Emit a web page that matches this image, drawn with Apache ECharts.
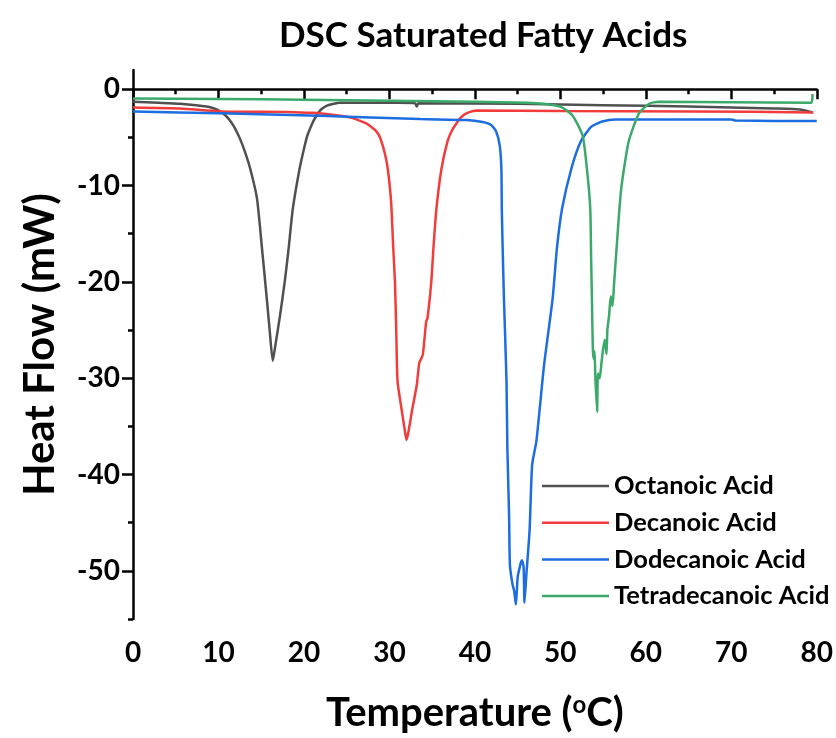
<!DOCTYPE html>
<html lang="en">
<head>
    <meta charset="UTF-8">
    <title>DSC Saturated Fatty Acids</title>
    <style>
        body {
            margin: 0;
            padding: 0;
            background-color: #ffffff;
        }

        #chart-container {
            width: 836px;
            height: 738px;
        }
    </style>
    <script src="https://cdn.jsdelivr.net/npm/echarts@6.0.0/dist/echarts.min.js"></script>
</head>
<body>
    <div id="chart-container"></div>

    <script>
        // values (temperature in °C, heat flow in mW)
        const octanoicTemp = [0, 3, 5.5, 8.6, 9.5, 10.2, 10.8, 11.3, 11.9, 12.5, 13.1, 13.7, 14.5, 15.1, 15.65, 16.0, 16.35, 16.6, 17.2, 17.75, 18.2, 18.7, 19.5, 20.0, 20.4, 21.0, 21.5, 22.0, 22.7, 23.5, 24.2, 31, 33.0, 33.2, 33.4, 45, 55, 65, 70, 75, 78, 79.5];
        const octanoicFlow = [-1.3, -1.4, -1.5, -1.8, -2.0, -2.3, -2.7, -3.2, -4.0, -5.1, -6.5, -8.2, -11.3, -16.6, -21.7, -25.1, -28.2, -26.9, -23.5, -20, -16.6, -12.4, -8.2, -6.2, -4.8, -3.5, -2.7, -2.1, -1.7, -1.5, -1.4, -1.4, -1.45, -1.8, -1.45, -1.5, -1.65, -1.8, -1.9, -2.0, -2.1, -2.4];

        const decanoicTemp = [0, 5.5, 10.2, 18, 21, 23.8, 25, 25.7, 26.5, 27.3, 28, 28.5, 28.9, 29.2, 29.5, 29.8, 30.2, 30.45, 30.65, 30.8, 30.95, 31.4, 31.8, 32.0, 32.2, 32.7, 33.2, 33.5, 33.9, 34.3, 34.45, 34.9, 35.15, 35.5, 36.1, 36.8, 37.3, 37.8, 38.4, 39.0, 40.2, 50, 65.4, 79.6];
        const decanoicFlow = [-1.9, -2.0, -2.3, -2.35, -2.45, -2.7, -2.85, -3.0, -3.25, -3.55, -4.0, -4.4, -5.0, -5.8, -6.8, -8.2, -11.7, -16.5, -20, -25.1, -30.3, -33.1, -35.4, -36.4, -35.7, -33.1, -30.7, -28.4, -27.6, -24.1, -23.8, -20, -16.5, -12.4, -8.2, -5.4, -4.3, -3.6, -2.9, -2.5, -2.2, -2.25, -2.3, -2.4];

        const dodecanoicTemp = [0, 10.2, 21.9, 33.6, 39.0, 40.9, 41.9, 42.5, 42.9, 43.1, 43.15, 43.25, 43.4, 43.7, 43.8, 44.0, 44.1, 44.4, 44.6, 44.8, 45.0, 45.2, 45.4, 45.5, 45.7, 45.8, 46.0, 46.4, 46.7, 47.2, 48.1, 49.1, 49.6, 50.2, 51.3, 52.4, 53.6, 54.9, 56.5, 70, 70.5, 80];
        const dodecanoicFlow = [-2.3, -2.5, -2.75, -3.1, -3.2, -3.4, -3.7, -4.4, -5.8, -8.2, -12.4, -16.5, -21.7, -30.3, -37.2, -44.2, -49.4, -51.4, -52.1, -53.5, -50.7, -49.8, -49.1, -48.9, -49.6, -53.3, -50.7, -45.8, -39, -36.5, -28.6, -21.7, -16.5, -12.4, -8.2, -5.4, -3.9, -3.35, -3.14, -3.14, -3.25, -3.3];

        const tetradecanoicTemp = [0, 10, 20, 30, 40, 46, 48, 50, 51.4, 52.6, 53.1, 53.5, 53.6, 53.7, 53.8, 53.9, 54.0, 54.1, 54.3, 54.4, 54.6, 54.8, 55.0, 55.2, 55.4, 55.5, 55.7, 55.9, 56.1, 56.3, 56.5, 57.1, 58.0, 59.2, 60.4, 61.5, 70, 79.4, 79.5];
        const tetradecanoicFlow = [-0.95, -1.0, -1.1, -1.2, -1.3, -1.4, -1.5, -1.8, -2.7, -4.8, -8.2, -12.4, -17.5, -22, -27, -28, -27.2, -30, -33.5, -29.5, -30, -28.5, -27, -26, -27.5, -25, -23.5, -21.5, -22.5, -20, -17.5, -10.5, -5.4, -2.5, -1.5, -1.3, -1.35, -1.4, -0.5];

        const seriesNames = ['Octanoic Acid', 'Decanoic Acid', 'Dodecanoic Acid', 'Tetradecanoic Acid'];
        const seriesColors = ['#505050', '#f23c3c', '#1c6de0', '#3aa96a'];

        const xTicks = [0, 10, 20, 30, 40, 50, 60, 70, 80];
        const yMajorTicks = [-50, -40, -30, -20, -10, 0];
        const yMinorTicks = [-55, -45, -35, -25, -15, -5];

        function toPairs(xs, ys) {
            let pairs = [];
            for (let i = 0; i < xs.length; i++) {
                pairs.push([xs[i], ys[i]]);
            }
            return pairs;
        }

        const allData = [
            toPairs(octanoicTemp, octanoicFlow),
            toPairs(decanoicTemp, decanoicFlow),
            toPairs(dodecanoicTemp, dodecanoicFlow),
            toPairs(tetradecanoicTemp, tetradecanoicFlow)
        ];

        const font = 'Lato, "Open Sans", sans-serif';

        var chart = echarts.init(document.getElementById('chart-container'));

        var option = {
            animation: false,
            title: {
                text: 'DSC Saturated Fatty Acids',
                left: 274,
                top: 13,
                textStyle: {
                    fontFamily: font,
                    fontWeight: 'bold',
                    fontSize: 35,
                    color: '#000'
                }
            },
            legend: {
                orient: 'vertical',
                left: 537,
                top: 468,
                icon: 'rect',
                itemWidth: 67,
                itemHeight: 2.5,
                itemGap: 10.7,
                data: seriesNames,
                textStyle: {
                    fontFamily: font,
                    fontWeight: 'bold',
                    fontSize: 25.5,
                    lineHeight: 26,
                    color: '#000'
                }
            },
            grid: {
                left: 133,
                right: 18,
                top: 70,
                bottom: 116
            },
            xAxis: {
                type: 'value',
                min: 0,
                max: 80,
                interval: 10,
                name: 'Temperature ({s|o}C)',
                nameLocation: 'middle',
                nameGap: 74,
                nameTextStyle: {
                    fontFamily: font,
                    fontWeight: 'bold',
                    fontSize: 40,
                    color: '#000',
                    rich: {
                        s: {
                            fontFamily: font,
                            fontWeight: 'bold',
                            fontSize: 24,
                            verticalAlign: 'top',
                            color: '#000'
                        }
                    }
                },
                axisLine: { lineStyle: { color: '#000', width: 2.5 } },
                axisTick: { length: 10, lineStyle: { color: '#000', width: 2.5 } },
                minorTick: { show: true, splitNumber: 2, length: 5, lineStyle: { color: '#000', width: 2.5 } },
                splitLine: { show: false },
                minorSplitLine: { show: false },
                axisLabel: {
                    margin: 20,
                    fontFamily: font,
                    fontWeight: 'bold',
                    fontSize: 28,
                    color: '#000',
                    customValues: xTicks
                }
            },
            yAxis: [
                {
                    type: 'value',
                    min: -55,
                    max: 2,
                    name: 'Heat Flow (mW)',
                    nameLocation: 'middle',
                    nameGap: 72,
                    nameTextStyle: {
                        fontFamily: font,
                        fontWeight: 'bold',
                        fontSize: 42,
                        color: '#000'
                    },
                    axisLine: { show: true, lineStyle: { color: '#000', width: 2.5 } },
                    axisTick: { show: true, length: 11, customValues: yMajorTicks, lineStyle: { color: '#000', width: 2.5 } },
                    splitLine: { show: false },
                    axisLabel: {
                        margin: 13,
                        fontFamily: font,
                        fontWeight: 'bold',
                        fontSize: 28,
                        color: '#000',
                        customValues: yMajorTicks
                    }
                },
                {
                    // minor ticks only
                    type: 'value',
                    min: -55,
                    max: 2,
                    position: 'left',
                    axisLine: { show: false },
                    axisTick: { show: true, length: 5, customValues: yMinorTicks, lineStyle: { color: '#000', width: 2.5 } },
                    axisLabel: { show: false },
                    splitLine: { show: false }
                }
            ],
            series: seriesNames.map(function (name, i) {
                return {
                    name: name,
                    type: 'line',
                    yAxisIndex: 0,
                    data: allData[i],
                    symbol: 'none',
                    smooth: 0.2,
                    color: seriesColors[i],
                    lineStyle: { color: seriesColors[i], width: 2.5 }
                };
            })
        };

        chart.setOption(option);
    </script>
</body>
</html>
